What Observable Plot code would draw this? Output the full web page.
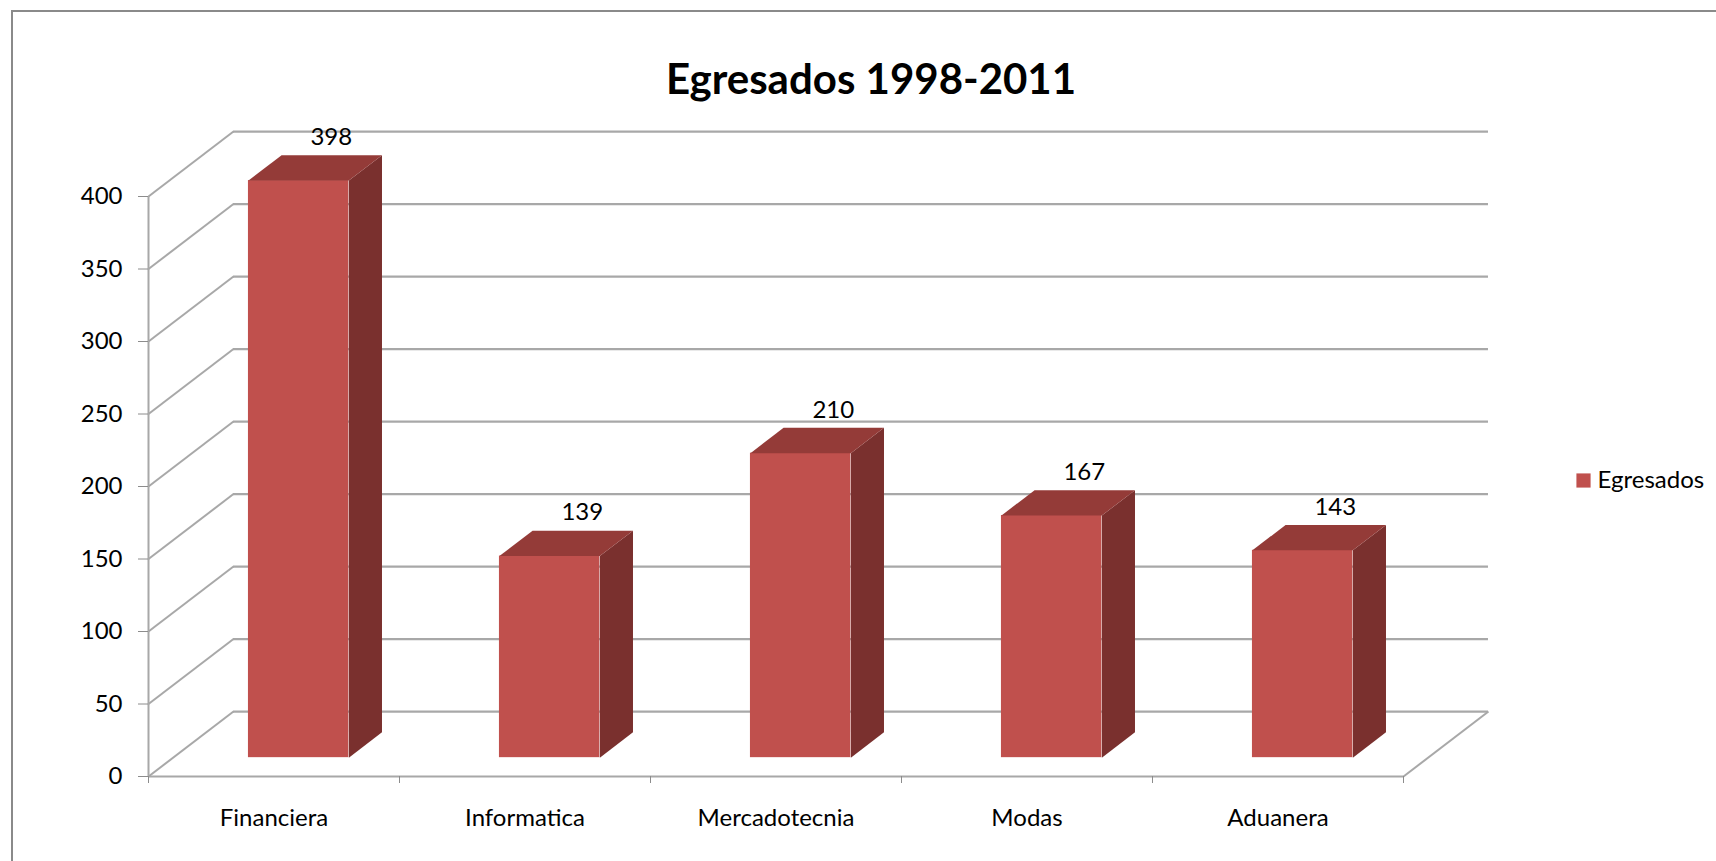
<!DOCTYPE html>
<html>
<head>
<meta charset="utf-8">
<script src="https://cdn.jsdelivr.net/npm/d3@7"></script>
<script src="https://cdn.jsdelivr.net/npm/@observablehq/plot@0.6"></script>
<style>
  html, body { margin: 0; padding: 0; background: #fff; }
  #wrap { position: relative; width: 1716px; height: 861px; overflow: hidden; }
  #border { position: absolute; left: 11px; top: 10px; width: 1720px; height: 870px;
            border-left: 2px solid #8a8a8a; border-top: 2px solid #8a8a8a; box-sizing: border-box; }
  #chart { position: absolute; left: 0; top: 0; }
  svg text { font-family: Lato, "Open Sans", sans-serif; }
</style>
</head>
<body>
<div id="wrap"><div id="border"></div><div id="chart"></div></div>
<script>
// ---- data ----
const categories = ["Financiera", "Informatica", "Mercadotecnia", "Modas", "Aduanera"];
const values = [398, 139, 210, 167, 143];
const yTicks = [0, 50, 100, 150, 200, 250, 300, 350, 400];
const seriesName = "Egresados";
const chartTitle = "Egresados 1998-2011";

// ---- 3D geometry (in scale units) ----
const DX = 0.3386;   // depth along x (category units)
const DY = 44.8;     // depth along y (value units)
const HW = 0.2;      // half bar width
const T0 = 0.29, T1 = 0.68; // bar front/back depth fractions

const front = "#c0504d", topC = "#943b38", sideC = "#7a302e", grid = "#a8a8a8";

const rows = categories.map((c, i) => ({cat: c, i, v: values[i]}));

const frontRects = rows.map(r => ({
  cat: r.cat,
  x1: r.i + 0.5 - HW + T0 * DX, x2: r.i + 0.5 + HW + T0 * DX,
  y1: T0 * DY, y2: r.v + T0 * DY
}));
const sidePolys = rows.flatMap(r => {
  const xr = r.i + 0.5 + HW;
  return [[xr + T0 * DX, T0 * DY], [xr + T1 * DX, T1 * DY], [xr + T1 * DX, r.v + T1 * DY], [xr + T0 * DX, r.v + T0 * DY]]
    .map(([x, y]) => ({cat: r.cat, x, y}));
});
const topPolys = rows.flatMap(r => {
  const xl = r.i + 0.5 - HW, xr = r.i + 0.5 + HW;
  return [[xl + T0 * DX, r.v + T0 * DY], [xr + T0 * DX, r.v + T0 * DY], [xr + T1 * DX, r.v + T1 * DY], [xl + T1 * DX, r.v + T1 * DY]]
    .map(([x, y]) => ({cat: r.cat, x, y}));
});

const plot = Plot.plot({
  width: 1716,
  height: 861,
  marginLeft: 148,
  marginRight: 313,
  marginTop: 196,
  marginBottom: 85,
  x: {type: "linear", domain: [0, categories.length], axis: null},
  y: {type: "linear", domain: [0, 400], axis: null},
  marks: [
    // back wall gridlines
    Plot.ruleY(yTicks, {y: d => d + DY, x1: DX, x2: categories.length + DX, stroke: grid, strokeWidth: 2.2}),
    // left wall diagonals
    Plot.link(yTicks, {x1: 0, y1: d => d, x2: DX, y2: d => d + DY, stroke: grid, strokeWidth: 2}),
    // right floor edge
    Plot.link([0], {x1: categories.length, y1: 0, x2: categories.length + DX, y2: DY, stroke: grid, strokeWidth: 2}),
    // front axes lines
    Plot.ruleX([0], {y1: 0, y2: 400, stroke: grid, strokeWidth: 2}),
    Plot.ruleY([0], {x1: 0, x2: categories.length, stroke: grid, strokeWidth: 2.2}),
    // y axis ticks & labels
    Plot.axisY({ticks: yTicks, tickSize: 10, tickPadding: 16, stroke: "#8c8c8c", fill: "#000", fontSize: 24, label: null}),
    // x axis ticks at category boundaries
    Plot.axisX({ticks: d3.range(categories.length + 1), tickSize: 7, tickFormat: () => "", stroke: "#8c8c8c", label: null}),
    // category labels
    Plot.text(rows, {x: d => d.i + 0.5, y: 0, text: "cat", dy: 42, fontSize: 24, fill: "#000"}),
    // bars
    Plot.rect(frontRects, {x1: "x1", x2: "x2", y1: "y1", y2: "y2", fill: front}),
    Plot.line(sidePolys, {x: "x", y: "y", z: "cat", fill: sideC, stroke: null}),
    Plot.line(topPolys, {x: "x", y: "y", z: "cat", fill: topC, stroke: null}),
    // data labels
    Plot.text(rows, {x: d => d.i + 0.5 + T0 * DX + 0.13, y: d => d.v + T1 * DY, text: d => String(d.v), dy: -18, fontSize: 24, fill: "#000"}),
    // title
    Plot.text([chartTitle], {frameAnchor: "top", dx: 95, dy: -132, fontSize: 42, fontWeight: "bold", fill: "#000"}),
    // legend
    Plot.dot([seriesName], {frameAnchor: "right", dx: 180, dy: -6, symbol: "square", r: 8, fill: front, stroke: null}),
    Plot.text([seriesName], {frameAnchor: "right", dx: 194, dy: -6, textAnchor: "start", fontSize: 24, fill: "#000"})
  ]
});
document.getElementById("chart").appendChild(plot);
</script>
</body>
</html>
